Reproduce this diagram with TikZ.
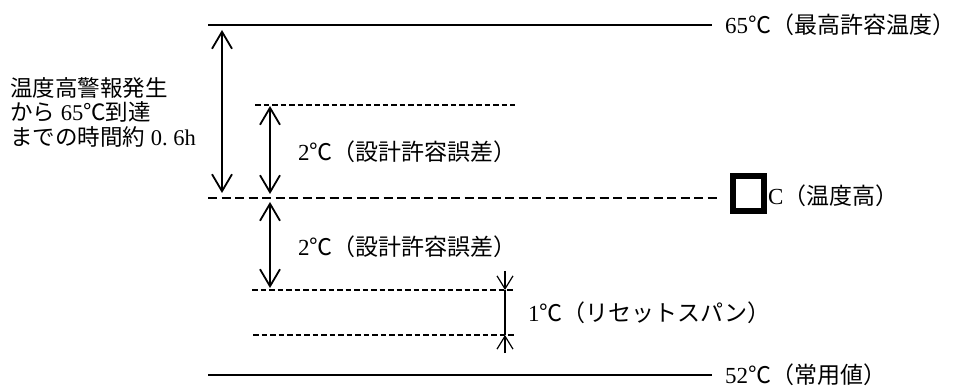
\documentclass[tikz,border=0pt]{standalone}
\usepackage{fontspec}
\setmainfont{Liberation Serif}
\newfontfamily\cjk{Noto Sans CJK JP}
\newcommand\J[1]{{\cjk #1}}
\newcommand\degC{\makebox[1em][c]{\cjk ℃}}
\usetikzlibrary{arrows.meta}
\begin{document}
\begin{tikzpicture}[x=1pt,y=-1pt,
  lbl/.style={anchor=west, inner sep=0pt, font=\fontsize{23}{24.5}\selectfont},
  solidln/.style={line width=1.3pt},
  dashln/.style={line width=1.8pt, dash pattern=on 5.5pt off 3pt},
  longdash/.style={line width=1.8pt, dash pattern=on 9pt off 4.5pt},
  dimarr/.style={line width=1.8pt, {Straight Barb[length=17pt,width=20pt]}-{Straight Barb[length=17pt,width=20pt]}},
  smallarr/.style={line width=1.2pt, -{Straight Barb[length=13pt,width=16pt]}}
]
\useasboundingbox (0,0) rectangle (958,387);
% reference lines
\coordinate (L65a) at (208,25);  \coordinate (L65b) at (712,25);
\coordinate (L67a) at (255,105); \coordinate (L67b) at (515,105);
\coordinate (LHa) at (208,198);  \coordinate (LHb) at (718,198);
\coordinate (L61a) at (252,290); \coordinate (L61b) at (513,290);
\coordinate (L60a) at (253,335); \coordinate (L60b) at (515,335);
\coordinate (L52a) at (208,375); \coordinate (L52b) at (712,375);
\draw[solidln] (L65a) -- (L65b);
\draw[dashln] (L67a) -- (L67b);
\draw[longdash] (LHa) -- (LHb);
\draw[dashln] (L61a) -- (L61b);
\draw[dashln] (L60a) -- (L60b);
\draw[solidln] (L52a) -- (L52b);
% dimension arrows
\coordinate (a1t) at (222,30);  \coordinate (a1b) at (222,193);
\coordinate (a2t) at (270,106); \coordinate (a2b) at (270,194);
\coordinate (a3t) at (270,202); \coordinate (a3b) at (270,288);
\draw[dimarr] (a1t) -- (a1b);
\draw[dimarr] (a2t) -- (a2b);
\draw[dimarr] (a3t) -- (a3b);
% reset span
\coordinate (r0) at (505,271); \coordinate (r1) at (505,290);
\coordinate (r2) at (505,335); \coordinate (r3) at (505,353);
\draw[smallarr] (r0) -- (r1);
\draw[line width=1.2pt] (r1) -- (r2);
\draw[smallarr] (r3) -- (r2);
% labels
\node[lbl, align=left, font=\fontsize{22.5}{24.5}\selectfont] (left) at (10,112) {\J{温度高警報発生}\\\J{から} 65\degC\J{到達}\\\J{までの時間約} 0.\hspace{0.25em}6h};
\node[lbl] (t65) at (725,25) {65\degC\J{（最高許容温度）}};
\node[draw, line width=6pt, minimum width=31pt, minimum height=35pt, inner sep=0pt] (box) at (748.5,194) {};
\node[lbl, anchor=west] (thigh) at ([xshift=1pt]box.east |- 0,196) {C\J{（温度高）}};
\node[lbl] (t52) at (725,375) {52\degC\J{（常用値）}};
\node[lbl] (e1) at (298,152) {2\degC\J{（設計許容誤差）}};
\node[lbl] (e2) at (298,247) {2\degC\J{（設計許容誤差）}};
\node[lbl] (reset) at (528,313) {1\degC\J{（リセットスパン）}};
\end{tikzpicture}
\end{document}
